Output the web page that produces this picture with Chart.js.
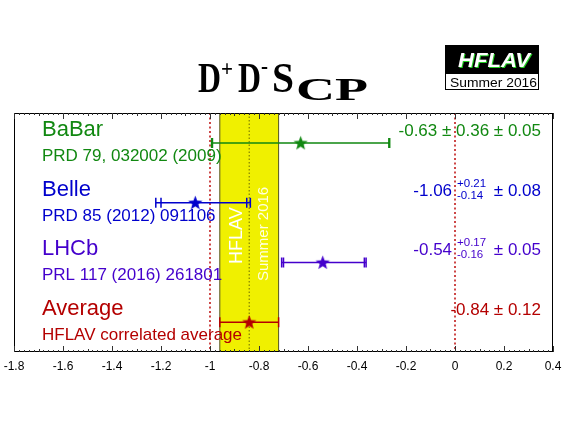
<!DOCTYPE html>
<html>
<head>
<meta charset="utf-8">
<script src="https://cdn.jsdelivr.net/npm/chart.js@4.4.0/dist/chart.umd.min.js"></script>
<style>
  html, body { margin: 0; padding: 0; background: #fff; }
  #wrap { width: 567px; height: 425px; }
</style>
</head>
<body>
<div id="wrap"><canvas id="chart" width="567" height="425"></canvas></div>
<script>
// measurements of S_CP in B0 -> D+ D-
const experiments = ['BaBar', 'Belle', 'LHCb', 'Average'];
const references = ['PRD 79, 032002 (2009)', 'PRD 85 (2012) 091106', 'PRL 117 (2016) 261801', 'HFLAV correlated average'];
const centralValues = [-0.63, -1.06, -0.54, -0.84];
const statUp = [0.36, 0.21, 0.17, 0.12];
const statDown = [0.36, 0.14, 0.16, 0.12];
const systErr = [0.05, 0.08, 0.05, 0];
const referenceLines = [-1, 0];
const colors = ['#118811', '#0000cc', '#4400cc', '#b40000'];
const xMin = -1.8, xMax = 0.4;
const AVG = 3;

const SANS = '"Liberation Sans", Arial, sans-serif';
const SERIF = '"Liberation Serif", "Times New Roman", serif';

const fmt = v => v.toFixed(2);
const total = (s, y) => Math.sqrt(s * s + y * y);

// draw text squeezed/stretched horizontally to a given width
function fitText(ctx, text, x, y, width) {
  const w = ctx.measureText(text).width;
  ctx.save();
  ctx.translate(x, y);
  ctx.scale(width / w, 1);
  ctx.fillText(text, 0, 0);
  ctx.restore();
}

function makeStar(color, r) {
  const c = document.createElement('canvas');
  const s = Math.ceil(r * 2) + 2;
  c.width = c.height = s;
  const g = c.getContext('2d');
  g.beginPath();
  for (let k = 0; k < 10; k++) {
    const a = -Math.PI / 2 + k * Math.PI / 5;
    const rad = k % 2 ? r * 0.42 : r;
    const px = s / 2 + rad * Math.cos(a), py = s / 2 + 0.6 + rad * Math.sin(a);
    k ? g.lineTo(px, py) : g.moveTo(px, py);
  }
  g.closePath();
  g.fillStyle = color;
  g.fill();
  return c;
}

const backgroundPlugin = {
  id: 'background',
  beforeDatasetsDraw(chart) {
    const { ctx, chartArea: a, scales: { x, y } } = chart;
    ctx.save();
    // average band
    const bl = x.getPixelForValue(centralValues[AVG] - statDown[AVG]);
    const br = x.getPixelForValue(centralValues[AVG] + statUp[AVG]);
    ctx.fillStyle = '#f0f000';
    ctx.fillRect(bl, a.top, br - bl, a.bottom - a.top);
    ctx.strokeStyle = '#555522';
    ctx.lineWidth = 1;
    ctx.beginPath();
    ctx.moveTo(bl, a.top); ctx.lineTo(bl, a.bottom);
    ctx.moveTo(br, a.top); ctx.lineTo(br, a.bottom);
    ctx.stroke();
    const bc = x.getPixelForValue(centralValues[AVG]);
    ctx.setLineDash([1.5, 2]);
    ctx.strokeStyle = '#6b6b00';
    ctx.beginPath();
    ctx.moveTo(bc, a.top); ctx.lineTo(bc, a.bottom);
    ctx.stroke();

    // reference lines
    ctx.setLineDash([2, 2.5]);
    ctx.strokeStyle = '#c83434';
    ctx.lineWidth = 1.8;
    referenceLines.forEach(v => {
      const px = x.getPixelForValue(v);
      ctx.beginPath();
      ctx.moveTo(px, a.top); ctx.lineTo(px, a.bottom);
      ctx.stroke();
    });
    ctx.setLineDash([]);

    // band labels
    ctx.fillStyle = '#ffffff';
    ctx.font = '18px ' + SANS;
    ctx.textAlign = 'left';
    ctx.textBaseline = 'alphabetic';
    ctx.save();
    ctx.translate(242, 264);
    ctx.rotate(-Math.PI / 2);
    ctx.fillText('HFLAV', 0, 0);
    ctx.restore();
    ctx.fillStyle = '#ffffe0';
    ctx.font = '15px ' + SANS;
    ctx.save();
    ctx.translate(268, 281);
    ctx.rotate(-Math.PI / 2);
    ctx.fillText('Summer 2016', 0, 0);
    ctx.restore();

    // error bars
    ctx.lineWidth = 1.5;
    experiments.forEach((e, i) => {
      const py = y.getPixelForValue(i);
      const c = centralValues[i];
      const lo = c - total(statDown[i], systErr[i]);
      const hi = c + total(statUp[i], systErr[i]);
      ctx.strokeStyle = colors[i];
      ctx.beginPath();
      ctx.moveTo(x.getPixelForValue(lo), py);
      ctx.lineTo(x.getPixelForValue(hi), py);
      [lo, hi, c - statDown[i], c + statUp[i]].forEach(v => {
        const px = x.getPixelForValue(v);
        ctx.moveTo(px, py - 5); ctx.lineTo(px, py + 5);
      });
      ctx.stroke();
    });
    ctx.restore();
  }
};

const labelsPlugin = {
  id: 'labels',
  afterDatasetsDraw(chart) {
    const { ctx, chartArea: a, scales: { x, y } } = chart;
    ctx.save();
    ctx.textBaseline = 'alphabetic';
    experiments.forEach((e, i) => {
      const py = y.getPixelForValue(i);
      ctx.fillStyle = colors[i];
      ctx.textAlign = 'left';
      ctx.font = '22px ' + SANS;
      ctx.fillText(e, 42, py - 7);
      ctx.font = '17px ' + SANS;
      ctx.fillText(references[i], 42, py + 18);

      // value text, right aligned
      const right = 541;
      const base = py - 7;
      ctx.textAlign = 'right';
      ctx.font = '17px ' + SANS;
      if (statUp[i] === statDown[i]) {
        let s = fmt(centralValues[i]) + ' \u00b1 ' + fmt(statUp[i]);
        if (systErr[i] > 0) s += ' \u00b1 ' + fmt(systErr[i]);
        ctx.fillText(s, right, base);
      } else {
        const tail = ' \u00b1 ' + fmt(systErr[i]);
        ctx.fillText(tail, right, base);
        const xr = right - ctx.measureText(tail).width - 3;
        ctx.font = '11.5px ' + SANS;
        const up = '+' + fmt(statUp[i]), dn = '-' + fmt(statDown[i]);
        const w = Math.max(ctx.measureText(up).width, ctx.measureText(dn).width);
        ctx.textAlign = 'left';
        ctx.fillText(up, xr - w, base - 9);
        ctx.fillText(dn, xr - w, base + 3);
        ctx.textAlign = 'right';
        ctx.font = '17px ' + SANS;
        ctx.fillText(fmt(centralValues[i]), xr - w - 5, base);
      }
    });

    // frame and ticks
    ctx.strokeStyle = '#000';
    ctx.lineWidth = 1;
    ctx.strokeRect(a.left + 0.5, a.top + 0.5, a.right - a.left - 1, a.bottom - a.top - 1);
    ctx.beginPath();
    for (let k = 0; k <= 110; k++) {
      const v = xMin + k * 0.02;
      const px = Math.round(x.getPixelForValue(v)) + 0.5;
      const len = k % 10 === 0 ? 6 : (k % 5 === 0 ? 3 : 2);
      ctx.moveTo(px, a.bottom); ctx.lineTo(px, a.bottom - len);
      ctx.moveTo(px, a.top); ctx.lineTo(px, a.top + len);
    }
    ctx.strokeStyle = '#333';
    ctx.stroke();
    ctx.restore();
  },
  afterDraw(chart) {
    const { ctx } = chart;
    ctx.save();
    ctx.fillStyle = '#000';
    ctx.textAlign = 'left';
    ctx.textBaseline = 'alphabetic';
    // title  D+ D- S_CP
    ctx.font = 'bold 43px ' + SERIF;
    fitText(ctx, 'D', 198, 92, 23);
    fitText(ctx, 'D', 238, 92, 23);
    fitText(ctx, 'S', 272, 92, 22);
    ctx.font = 'bold 24px ' + SERIF;
    fitText(ctx, '+', 221, 76, 12);
    fitText(ctx, '-', 261, 74, 7);
    ctx.font = 'bold 31px ' + SERIF;
    fitText(ctx, 'CP', 296, 100, 72);

    // logo
    ctx.fillStyle = '#000';
    ctx.fillRect(445, 45, 94, 29);
    ctx.fillStyle = '#fff';
    ctx.fillRect(446, 74, 92, 15);
    ctx.strokeStyle = '#000';
    ctx.lineWidth = 1;
    ctx.strokeRect(445.5, 45.5, 93, 44);
    ctx.font = 'italic bold 21px ' + SANS;
    ctx.fillStyle = '#22cc22';
    fitText(ctx, 'HFLAV', 459, 68, 72);
    ctx.fillStyle = '#fff';
    fitText(ctx, 'HFLAV', 458, 67, 72);
    ctx.fillStyle = '#000';
    ctx.font = '13px ' + SANS;
    fitText(ctx, 'Summer 2016', 450, 87, 87);
    ctx.restore();
  }
};

const points = experiments.map((e, i) => ({ x: centralValues[i], y: e }));

new Chart(document.getElementById('chart'), {
  type: 'scatter',
  data: {
    datasets: [{
      data: points,
      pointStyle: colors.map(c => makeStar(c, 7.5)),
      pointRadius: 7,
      showLine: false
    }]
  },
  options: {
    responsive: false,
    animation: false,
    events: [],
    layout: { padding: { left: 14, right: 14, top: 113, bottom: 0 } },
    plugins: { legend: { display: false }, tooltip: { enabled: false } },
    scales: {
      x: {
        type: 'linear',
        min: xMin,
        max: xMax,
        afterFit: s => { s.height = 73; s.paddingLeft = 0; s.paddingRight = 0; },
        grid: { display: false, drawTicks: false },
        border: { display: false },
        ticks: {
          stepSize: 0.2,
          padding: 7,
          color: '#000',
          font: { family: SANS, size: 12 },
          callback: v => String(Number(v.toFixed(1)))
        }
      },
      y: {
        type: 'category',
        labels: experiments,
        offset: true,
        display: false
      }
    }
  },
  plugins: [backgroundPlugin, labelsPlugin]
});
</script>
</body>
</html>
